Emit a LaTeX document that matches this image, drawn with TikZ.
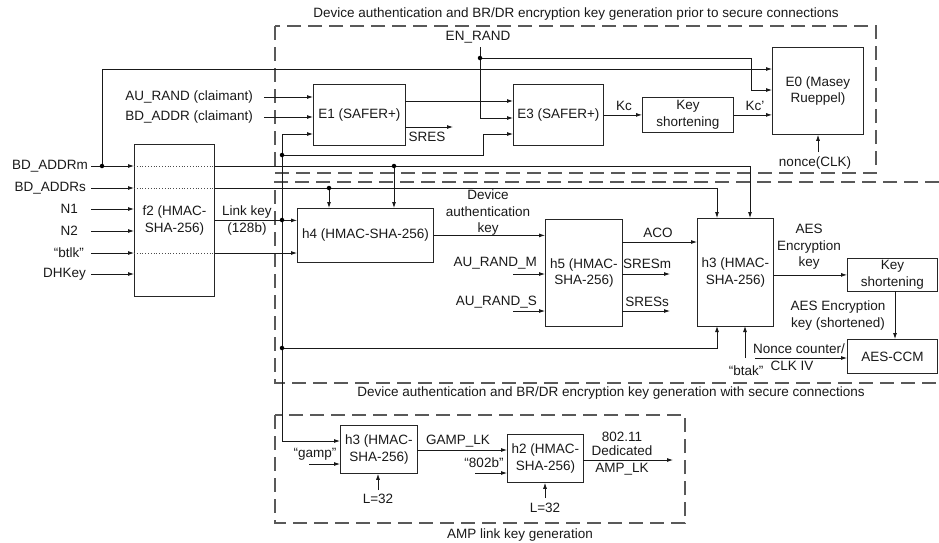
\documentclass[tikz,border=0pt]{standalone}
\usepackage{fontspec}
\setmainfont{Liberation Sans}
\usetikzlibrary{arrows.meta}
\begin{document}
\begin{tikzpicture}[x=1pt,y=-1pt,
  every node/.style={font=\fontsize{13.5}{16.5}\selectfont, inner sep=0pt, text=black!90},
  box/.style={draw=black!85, line width=0.8pt, anchor=north west, align=center},
  wire/.style={draw=black!90, line width=0.8pt},
  arr/.style={wire, -{Latex[length=6pt,width=4pt]}},
  arrboth/.style={wire, {Latex[length=6pt,width=4pt]}-{Latex[length=6pt,width=4pt]}},
  dotline/.style={draw=black!70, line width=0.8pt, dotted},
  grp/.style={draw=black!65, line width=1.2pt, dash pattern=on 14pt off 7pt},
  jd/.style={circle, fill=black, minimum size=4.5pt, inner sep=0pt},
  lab/.style={align=center},
]
\useasboundingbox (0,0) rectangle (939,542);

% ---------- group frames ----------
\draw[grp] (275,26) rectangle (876,173);
\draw[grp] (939,182) -- (275,182) -- (275,383) -- (939,383);
\draw[grp] (275,415) rectangle (685,523);
\node (t1) at (576,14) {Device authentication and BR/DR encryption key generation prior to secure connections};
\node (t2) at (611,393) {Device authentication and BR/DR encryption key generation with secure connections};
\node (t3) at (520,535) {AMP link key generation};

% ---------- boxes ----------
\node[box, minimum width=80pt, minimum height=152pt] (f2) at (134,144) {f2 (HMAC-\\SHA-256)};
\node[box, minimum width=92pt, minimum height=61pt] (E1) at (313,84) {E1 (SAFER+)};
\node[box, minimum width=90pt, minimum height=61pt] (E3) at (513,84) {E3 (SAFER+)};
\node[box, minimum width=91pt, minimum height=35pt] (KS1) at (642,97) {Key\\shortening};
\node[box, minimum width=91pt, minimum height=87pt] (E0) at (772,47) {E0 (Masey\\Rueppel)};
\node[box, minimum width=136pt, minimum height=54pt] (h4) at (297,208) {h4 (HMAC-SHA-256)};
\node[box, minimum width=77pt, minimum height=107pt] (h5) at (545,219) {h5 (HMAC-\\SHA-256)};
\node[box, minimum width=76pt, minimum height=108pt] (h3) at (697,218) {h3 (HMAC-\\SHA-256)};
\node[box, minimum width=90pt, minimum height=33pt] (KS2) at (847,258) {Key\\shortening};
\node[box, minimum width=90pt, minimum height=34pt] (AES) at (847,339) {AES-CCM};
\node[box, minimum width=77pt, minimum height=48pt] (h3b) at (340,425) {h3 (HMAC-\\SHA-256)};
\node[box, minimum width=76pt, minimum height=48pt] (h2) at (507,434) {h2 (HMAC-\\SHA-256)};

% ---------- f2 inputs ----------
\node[anchor=east] (lBDm) at (88,166) {BD\_ADDRm};
\node[anchor=east] (lBDs) at (86,188) {BD\_ADDRs};
\node[anchor=east] (lN1) at (78,209) {N1};
\node[anchor=east] (lN2) at (78,231) {N2};
\node[anchor=east] (lbtlk) at (84,253) {“btlk”};
\node[anchor=east] (lDH) at (86,274) {DHKey};
\coordinate (sBDm) at (91,166);
\coordinate (sBDs) at (91,188);
\coordinate (sN1) at (91,209);
\coordinate (sN2) at (91,231);
\coordinate (sbtlk) at (91,253);
\coordinate (sDH) at (91,274);
\foreach \s in {sBDm,sBDs,sN1,sN2,sbtlk,sDH}
  \draw[arr] (\s) -- (f2.west |- \s);
\foreach \s in {sBDm,sBDs,sbtlk}
  \draw[dotline] (f2.west |- \s) -- (f2.east |- \s);

% ports and junctions
\coordinate (jBDm) at (102,166);
\coordinate (jBDm2) at (394,166);
\coordinate (jBDs) at (329,188);
\coordinate (E0w1) at (772,69);
\coordinate (E0w2) at (772,90);
\coordinate (h3n1) at (717,218);
\coordinate (h3n2) at (750,218);
\coordinate (h3s1) at (717,326);
\coordinate (h3s2) at (745,326);

% BD_ADDRm
\draw[arr] (f2.east |- sBDm) -| (h3n2);
\draw[arr] (jBDm) |- (E0w1);
\draw[arr] (jBDm2) -- (jBDm2 |- h4.north);
% BD_ADDRs
\draw[arr] (f2.east |- sBDs) -| (h3n1);
\draw[arr] (jBDs) -- (jBDs |- h4.north);
% btlk
\draw[arr] (f2.east |- sbtlk) -- (h4.west |- sbtlk);

% link key
\coordinate (jLK) at (282,220);
\coordinate (lkTop) at (282,134);
\coordinate (lkBot) at (282,441);
\coordinate (jE3) at (282,155);
\coordinate (bE3) at (483,155);
\coordinate (E3w3) at (513,134);
\coordinate (jH3) at (282,348);
\draw[arr] (f2.east) -- (h4.west |- f2.east);
\draw[arrboth] (E1.west |- lkTop) -- (lkTop) -- (lkBot) -- (h3b.west |- lkBot);
\draw[arr] (jE3) -- (bE3) |- (E3w3);
\draw[arr] (jH3) -| (h3s1);
\node[anchor=south] (lLK1) at (247,218) {Link key};
\node[anchor=north] (lLK2) at (247,223) {(128b)};

% E1 inputs / outputs
\node[anchor=east] (lAU) at (253,97) {AU\_RAND (claimant)};
\node[anchor=east] (lBD) at (253,117) {BD\_ADDR (claimant)};
\coordinate (sAU) at (264,97);
\coordinate (sBD) at (264,117);
\draw[arr] (sAU) -- (E1.west |- sAU);
\draw[arr] (sBD) -- (E1.west |- sBD);
\coordinate (e1o1) at (405,101);
\coordinate (e1o2) at (405,127);
\coordinate (sresEnd) at (453,127);
\draw[arr] (e1o1) -- (E3.west |- e1o1);
\draw[arr] (e1o2) -- (sresEnd);
\node (lSRES) at (427,137) {SRES};

% EN_RAND
\node (lEN) at (478,37) {EN\_RAND};
\coordinate (en0) at (480,47);
\coordinate (jEN) at (480,58);
\coordinate (enE3) at (480,118);
\coordinate (enB) at (751,58);
\draw[arr] (en0) -- (enE3) -- (E3.west |- enE3);
\draw[arr] (jEN) -- (enB) |- (E0w2);

% Kc
\draw[arr] (E3.east) -- (KS1.west);
\draw[arr] (KS1.east) -- (E0.west |- KS1.east);
\node (lKc) at (624,106) {Kc};
\node (lKc2) at (755,106) {Kc’};

% nonce
\node (lnonce) at (815,163) {nonce(CLK)};
\coordinate (nc0) at (818,152);
\draw[arr] (nc0) -- (nc0 |- E0.south);

% h4 -> h5
\draw[arr] (h4.east) -- (h5.west |- h4.east);
\node[lab] (lDAK) at (488,213) {Device\\authentication\\key};

% h5 inputs
\node[anchor=east] (lAUM) at (537,263) {AU\_RAND\_M};
\node[anchor=east] (lAUS) at (537,302) {AU\_RAND\_S};
\coordinate (sAUM) at (513,274);
\coordinate (sAUS) at (513,311);
\draw[arr] (sAUM) -- (h5.west |- sAUM);
\draw[arr] (sAUS) -- (h5.west |- sAUS);

% h5 outputs
\coordinate (aco) at (622,242);
\draw[arr] (aco) -- (h3.west |- aco);
\node (lACO) at (658,233) {ACO};
\coordinate (srm0) at (622,274);
\coordinate (srm1) at (670,274);
\coordinate (srs0) at (622,311);
\coordinate (srs1) at (670,311);
\draw[arr] (srm0) -- (srm1);
\draw[arr] (srs0) -- (srs1);
\node (lSRESm) at (647,264) {SRESm};
\node (lSRESs) at (647,302) {SRESs};

% h3 -> KS2 -> AES
\draw[arr] (h3.east |- KS2.west) -- (KS2.west);
\node[lab] (lAESk) at (809,247) {AES\\Encryption\\key};
\coordinate (ks2s) at (895,291);
\draw[arr] (ks2s) -- (ks2s |- AES.north);
\node[lab] (lAESs) at (838,315.5) {AES Encryption\\key (shortened)};

% nonce counter / btak
\coordinate (ncs) at (755,358);
\draw[arr] (ncs) -- (AES.west |- ncs);
\node (lNC1) at (799,349) {Nonce counter/};
\node (lNC2) at (792,366) {CLK IV};
\coordinate (bt0) at (745,358);
\draw[arr] (bt0) -- (h3s2);
\node (lbtak) at (746,371) {“btak”};

% AMP
\coordinate (sg) at (309,464);
\draw[arr] (sg) -- (h3b.west |- sg);
\node (lgamp) at (315,454) {“gamp”};
\coordinate (l1) at (378,490);
\draw[arr] (l1) -- (l1 |- h3b.south);
\node (lL1) at (378,499) {L=32};
\coordinate (gl) at (417,450);
\draw[arr] (gl) -- (h2.west |- gl);
\node (lGAMP) at (458,441) {GAMP\_LK};
\coordinate (s802) at (475,473);
\draw[arr] (s802) -- (h2.west |- s802);
\node (l802b) at (484,463) {“802b”};
\coordinate (l2) at (545,498);
\draw[arr] (l2) -- (l2 |- h2.south);
\node (lL2) at (545,508) {L=32};
\coordinate (h2o) at (583,460);
\coordinate (ampEnd) at (673,460);
\draw[arr] (h2o) -- (ampEnd);
\node (lA1) at (622,437) {802.11};
\node (lA2) at (622,451) {Dedicated};
\node (lA3) at (622,469) {AMP\_LK};

% junction dots
\foreach \j in {jBDm,jBDm2,jBDs,jLK,jE3,jH3,jEN}
  \node[jd] at (\j) {};
\end{tikzpicture}
\end{document}
